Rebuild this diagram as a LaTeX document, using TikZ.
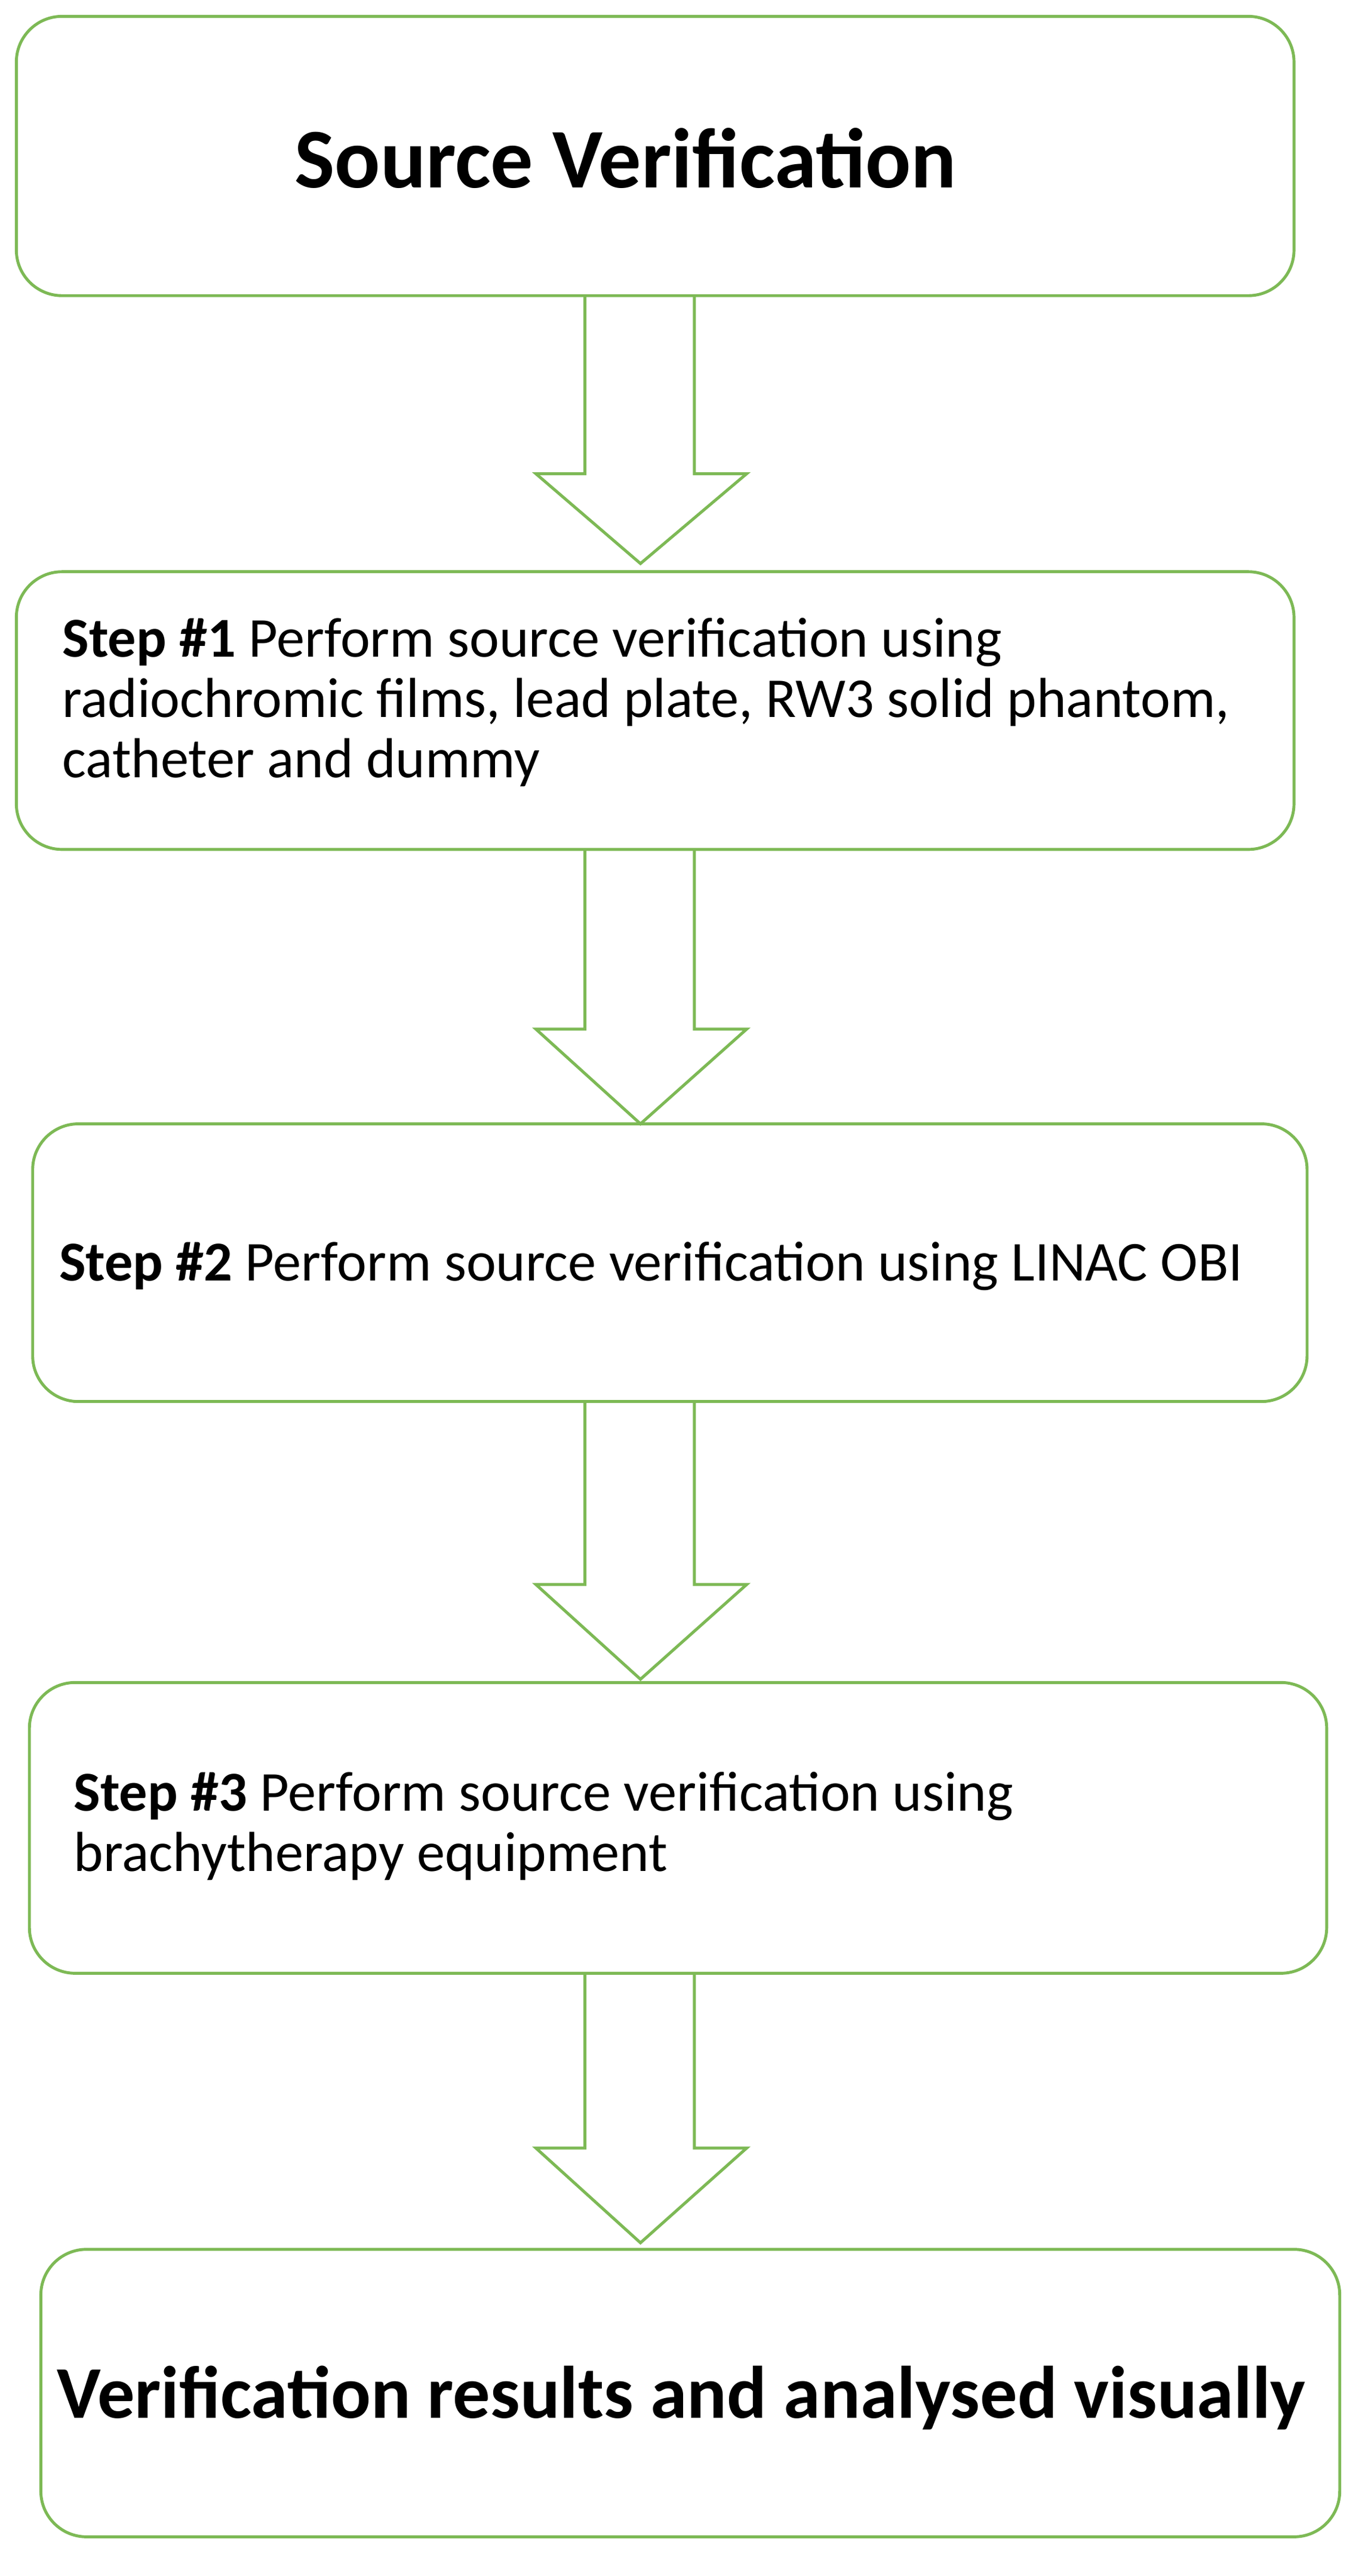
\documentclass[tikz,border=0pt]{standalone}
\usepackage{fontspec}
\setmainfont{Carlito}
\definecolor{grn}{HTML}{7DB955}
\begin{document}
\begin{tikzpicture}[x=1pt,y=-1pt,
  box/.style={draw=grn,line width=1.8pt,rounded corners=28pt},
  arr/.style={draw=grn,line width=1.8pt,line join=miter},
  txt/.style={anchor=west,align=left,font=\fontsize{34.5}{37}\selectfont,inner sep=0pt}]
\useasboundingbox (0,0) rectangle (837,1577);
\path[box] (10,10) rectangle (792,181);
\path[box] (10,350) rectangle (792,520);
\path[box] (20,688) rectangle (800,858);
\path[box] (18,1030) rectangle (812,1208);
\path[box] (25,1377) rectangle (820,1553);
\foreach \a/\h/\t in {181/290/345, 520/630/688, 858/970/1028, 1208/1315/1373}{
  \path[arr] (358,\a) -- (358,\h) -- (328,\h) -- (392,\t) -- (457,\h) -- (425,\h) -- (425,\a);
}
\node (t0) at (383,97) {\fontsize{52}{58}\selectfont\bfseries Source Verification};
\node[txt] (t1) at (38,430) {\textbf{Step \#1} Perform source verification using\\radiochromic films, lead plate, RW3 solid phantom,\\catheter and dummy};
\node[txt] (t2) at (36,775) {\textbf{Step \#2} Perform source verification using LINAC OBI};
\node[txt] (t3) at (45,1118) {\textbf{Step \#3} Perform source verification using\\brachytherapy equipment};
\node (t4) at (417,1468) {\fontsize{45.5}{50}\selectfont\bfseries Verification results and analysed visually};
\end{tikzpicture}
\end{document}
